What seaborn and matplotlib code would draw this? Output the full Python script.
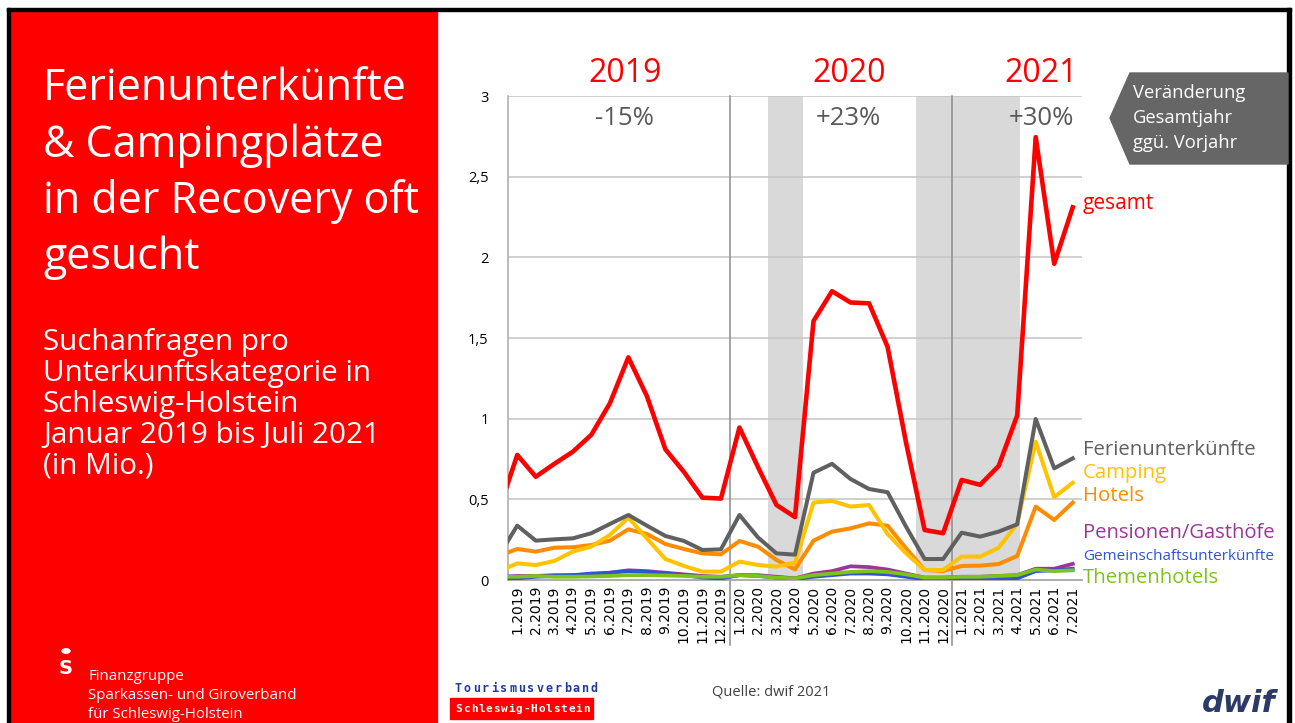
import numpy as np
import pandas as pd
import seaborn as sns
import matplotlib.pyplot as plt
from matplotlib.patches import Rectangle, Polygon, Circle

# Monate (12.2018 nur als Anschnitt am linken Rand sichtbar)
monate = ['12.2018'] + [f'{m}.2019' for m in range(1, 13)] \
    + [f'{m}.2020' for m in range(1, 13)] + [f'{m}.2021' for m in range(1, 8)]

# Suchanfragen in Mio.
gesamt = [0.43, 0.775, 0.64, 0.72, 0.795, 0.90, 1.095, 1.38, 1.14, 0.81, 0.67, 0.51, 0.505,
          0.945, 0.70, 0.465, 0.39, 1.605, 1.79, 1.72, 1.715, 1.445, 0.85, 0.31, 0.29,
          0.62, 0.59, 0.707, 1.02, 2.745, 1.96, 2.31]
ferien = [0.15, 0.337, 0.244, 0.252, 0.258, 0.29, 0.347, 0.403, 0.337, 0.273, 0.242, 0.186, 0.19,
          0.403, 0.264, 0.165, 0.157, 0.665, 0.72, 0.626, 0.564, 0.544, 0.33, 0.13, 0.13,
          0.293, 0.269, 0.30, 0.345, 0.998, 0.692, 0.754]
camping = [0.055, 0.103, 0.093, 0.118, 0.176, 0.207, 0.279, 0.386, 0.258, 0.13, 0.087, 0.052, 0.052,
           0.114, 0.093, 0.083, 0.107, 0.48, 0.49, 0.455, 0.465, 0.285, 0.165, 0.062, 0.062,
           0.145, 0.145, 0.20, 0.35, 0.857, 0.513, 0.603]
hotels = [0.15, 0.192, 0.176, 0.20, 0.203, 0.217, 0.244, 0.314, 0.285, 0.223, 0.192, 0.165, 0.159,
          0.242, 0.207, 0.124, 0.066, 0.244, 0.30, 0.32, 0.351, 0.337, 0.196, 0.062, 0.056,
          0.087, 0.089, 0.099, 0.149, 0.455, 0.372, 0.48]
pensionen = [0.02, 0.025, 0.025, 0.03, 0.03, 0.035, 0.045, 0.06, 0.055, 0.045, 0.035, 0.025, 0.02,
             0.03, 0.03, 0.02, 0.01, 0.04, 0.055, 0.085, 0.08, 0.065, 0.04, 0.015, 0.015,
             0.02, 0.02, 0.025, 0.03, 0.07, 0.07, 0.10]
gemeinschaft = [0.01, 0.01, 0.02, 0.025, 0.03, 0.04, 0.045, 0.055, 0.05, 0.04, 0.03, 0.015, 0.01,
                0.03, 0.025, 0.015, 0.005, 0.02, 0.03, 0.04, 0.04, 0.035, 0.02, 0.005, 0.005,
                0.01, 0.01, 0.01, 0.01, 0.055, 0.06, 0.07]
themen = [0.02, 0.02, 0.025, 0.02, 0.02, 0.022, 0.025, 0.03, 0.03, 0.028, 0.025, 0.02, 0.02,
          0.03, 0.025, 0.015, 0.01, 0.03, 0.04, 0.05, 0.055, 0.05, 0.035, 0.015, 0.015,
          0.02, 0.02, 0.025, 0.03, 0.065, 0.055, 0.06]

jahre = ['2019', '2020', '2021']
veraenderung = ['-15%', '+23%', '+30%']
lockdowns = [(13.55, 15.45), (21.55, 27.15)]

serien = {
    'Pensionen/Gasthöfe': (pensionen, '#9B3596', 2.7),
    'Gemeinschaftsunterkünfte': (gemeinschaft, '#2F55D4', 2.7),
    'Themenhotels': (themen, '#7CC31A', 2.7),
    'Hotels': (hotels, '#FF8C00', 2.9),
    'Camping': (camping, '#FFC300', 2.9),
    'Ferienunterkünfte': (ferien, '#606060', 2.9),
    'gesamt': (gesamt, '#FF0000', 3.3),
}

rows = []
for name, (werte, _, _) in serien.items():
    for i, (m, v) in enumerate(zip(monate, werte)):
        rows.append({'Monat': m, 'pos': i - 1, 'Kategorie': name, 'Wert': v})
df = pd.DataFrame(rows)

W, H = 1295, 723
plt.rcParams['font.family'] = ['Open Sans', 'DejaVu Sans']
fig = plt.figure(figsize=(W / 100, H / 100), dpi=100)


def fx(x):
    return x / W


def fy(y):
    return 1 - y / H


# Rahmen und rotes Feld
fig.patches.append(Rectangle((fx(10), 0), fx(437) - fx(10), fy(11), color='#FF0000',
                             transform=fig.transFigure, zorder=0))
for x0, y0, x1, y1 in [(7, 8, 1291, 11), (7, 8, 10, 723), (1287, 8, 1291, 723)]:
    fig.patches.append(Rectangle((fx(x0), fy(y1)), fx(x1) - fx(x0), fy(y0) - fy(y1),
                                 color='black', transform=fig.transFigure, zorder=1))

ax = fig.add_axes([fx(508), fy(580), fx(1082) - fx(508), fy(96) - fy(580)])
ax.set_facecolor('none')

for a, b in lockdowns:
    ax.axvspan(a, b, color='#D9D9D9', lw=0, zorder=0)

for y in np.arange(0.5, 3.01, 0.5):
    ax.axhline(y, color='#C8C8C8', lw=1.2, zorder=1)

for name, (werte, farbe, lw) in serien.items():
    sns.lineplot(data=df[df['Kategorie'] == name], x='pos', y='Wert', color=farbe,
                 linewidth=lw, estimator=None, ax=ax, legend=False, zorder=3)

for xs in [11.5, 23.5]:
    ax.plot([xs, xs], [-0.40, 3], color='#8C8C8C', lw=1.1, clip_on=False, zorder=2)

ax.set_xlim(-0.5, 30.5)
ax.set_ylim(0, 3)
ax.set_xticks(range(31))
ax.set_xticklabels(monate[1:], rotation=90, fontsize=10, family='DejaVu Sans')
ax.set_yticks(np.arange(0, 3.01, 0.5))
ax.set_yticklabels(['0', '0,5', '1', '1,5', '2', '2,5', '3'], fontsize=10.5)
ax.tick_params(length=0)
ax.tick_params(axis='x', pad=4)
ax.tick_params(axis='y', pad=14)
ax.set_xlabel('')
ax.set_ylabel('')
for s in ['top', 'right']:
    ax.spines[s].set_visible(False)
ax.spines['left'].set_color('#B0B0B0')
ax.spines['bottom'].set_color('#A0A0A0')
ax.spines['left'].set_linewidth(1.2)
ax.spines['bottom'].set_linewidth(1.2)

# Jahre und Veränderung
for xc, jahr, ver in zip([5.8, 17.9, 28.3], jahre, veraenderung):
    ax.text(xc, 3.14, jahr, color='#FF0000', fontsize=23, ha='center', va='center')
    ax.text(xc, 2.86, ver, color='#595959', fontsize=18.5, ha='center', va='center')

# Beschriftungen rechts
labels = [('gesamt', '#FF0000', 203, 15), ('Ferienunterkünfte', '#606060', 450, 14.7),
          ('Camping', '#FFC300', 473, 14.7), ('Hotels', '#FF8C00', 496, 14.7),
          ('Pensionen/Gasthöfe', '#9B3596', 533, 14.6),
          ('Gemeinschaftsunterkünfte', '#2F55D4', 556, 11),
          ('Themenhotels', '#7CC31A', 578, 14.7)]
for t, c, y, s in labels:
    fig.text(fx(1083), fy(y), t, color=c, fontsize=s, ha='left', va='center')

# Pfeil-Box
fig.patches.append(Polygon([(fx(1110), fy(118)), (fx(1130), fy(73)), (fx(1288), fy(73)),
                            (fx(1288), fy(164)), (fx(1130), fy(164))], closed=True,
                           color='#666666', transform=fig.transFigure, zorder=2))
for t, y in zip(['Veränderung', 'Gesamtjahr', 'ggü. Vorjahr'], [93, 118, 143]):
    fig.text(fx(1133), fy(y), t, color='white', fontsize=13.2, ha='left', va='center', zorder=3)

# Titel links
for t, y in zip(['Ferienunterkünfte', '& Campingplätze', 'in der Recovery oft', 'gesucht'],
                [100, 156.5, 213, 269.5]):
    fig.text(fx(43), fy(y), t, color='white', fontsize=31, ha='left', va='baseline')
for t, y in zip(['Suchanfragen pro', 'Unterkunftskategorie in', 'Schleswig-Holstein',
                 'Januar 2019 bis Juli 2021', '(in Mio.)'], [350, 381, 412, 443, 474]):
    fig.text(fx(43), fy(y), t, color='white', fontsize=21.3, ha='left', va='baseline')

# Fußzeile
fig.patches.append(Circle((fx(66), fy(651)), 4 / W, color='white', transform=fig.transFigure))
fig.text(fx(66), fy(668), 'S', color='white', fontsize=14, fontweight='bold',
         ha='center', va='center', family='DejaVu Sans')
for t, y in zip(['Finanzgruppe', 'Sparkassen- und Giroverband', 'für Schleswig-Holstein'],
                [680, 699, 718]):
    fig.text(fx(88), fy(y), t, color='white', fontsize=10.8, ha='left', va='baseline')

for i, ch in enumerate('Tourismusverband'):
    fig.text(fx(458 + i * 9.1), fy(689), ch, color='#1F3C99', fontsize=8.5, fontweight='bold',
             ha='center', va='center', family='DejaVu Sans Mono')
fig.patches.append(Rectangle((fx(450), fy(719)), fx(593) - fx(450), fy(698) - fy(719),
                             color='#FF0000', transform=fig.transFigure))
for i, ch in enumerate('Schleswig-Holstein'):
    fig.text(fx(459 + i * 7.5), fy(708.5), ch, color='white', fontsize=8, fontweight='bold',
             ha='center', va='center', family='DejaVu Sans Mono')

fig.text(fx(712), fy(692), 'Quelle: dwif 2021', color='#404040', fontsize=10.5,
         ha='left', va='center')
fig.text(fx(1276), fy(704), 'dwif', color='#2B3A67', fontsize=22, fontweight='bold',
         fontstyle='italic', ha='right', va='center', family='DejaVu Sans')

fig.savefig('out.png', dpi=100)
